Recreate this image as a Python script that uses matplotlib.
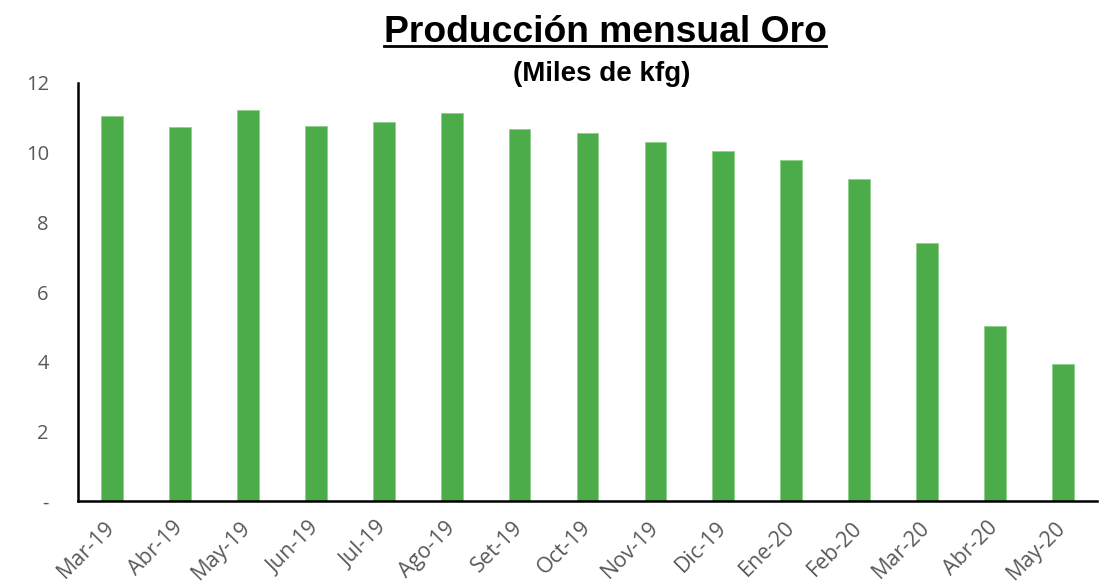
import matplotlib
matplotlib.use("Agg")
import matplotlib.pyplot as plt
from matplotlib.lines import Line2D

# datos (miles de kfg)
meses = ["Mar-19", "Abr-19", "May-19", "Jun-19", "Jul-19", "Ago-19", "Set-19",
         "Oct-19", "Nov-19", "Dic-19", "Ene-20", "Feb-20", "Mar-20", "Abr-20", "May-20"]
produccion = [11.05, 10.74, 11.23, 10.77, 10.88, 11.14, 10.68,
              10.57, 10.31, 10.05, 9.79, 9.24, 7.41, 5.02, 3.92]
yticks = [0, 2, 4, 6, 8, 10, 12]
ytick_labels = ["-", "2", "4", "6", "8", "10", "12"]

fig = plt.figure(figsize=(11.13, 5.84), dpi=100)
ax = fig.add_axes([0.0701, 0.1421, 0.9155, 0.7158])

x = range(len(meses))
ax.bar(x, produccion, width=0.32, color="#4CAC4A", edgecolor="#8FD08C", linewidth=0.6)

ax.set_xlim(-0.5, len(meses) - 0.5)
ax.set_ylim(0, 12)
ax.set_yticks(yticks)
ax.set_yticklabels(ytick_labels, fontfamily="Open Sans", fontsize=14.5, color="#595959")
ax.set_xticks(list(x))
ax.set_xticklabels(meses, fontfamily="Open Sans", fontsize=15.5, color="#595959",
                   rotation=45, ha="right", va="center", rotation_mode="anchor")
ax.tick_params(axis="y", length=0, pad=21)
ax.tick_params(axis="x", length=0, pad=17)

for s in ["top", "right"]:
    ax.spines[s].set_visible(False)
for s in ["left", "bottom"]:
    ax.spines[s].set_color("black")
    ax.spines[s].set_linewidth(1.8)

# titulo subrayado
t = fig.text(0.5436, 1 - 42 / 584, "Producción mensual Oro", ha="center", va="baseline",
             fontfamily="Liberation Sans", fontweight="bold", fontsize=26.8)
fig.text(0.541, 1 - 81 / 584, "(Miles de kfg)", ha="center", va="baseline",
         fontfamily="Liberation Sans", fontweight="bold", fontsize=20)

fig.canvas.draw()
bb = t.get_window_extent().transformed(fig.transFigure.inverted())
yline = 1 - 46 / 584
fig.add_artist(Line2D([bb.x0, bb.x1], [yline, yline], transform=fig.transFigure,
                      color="black", linewidth=2))

fig.savefig("out.png", dpi=100)
